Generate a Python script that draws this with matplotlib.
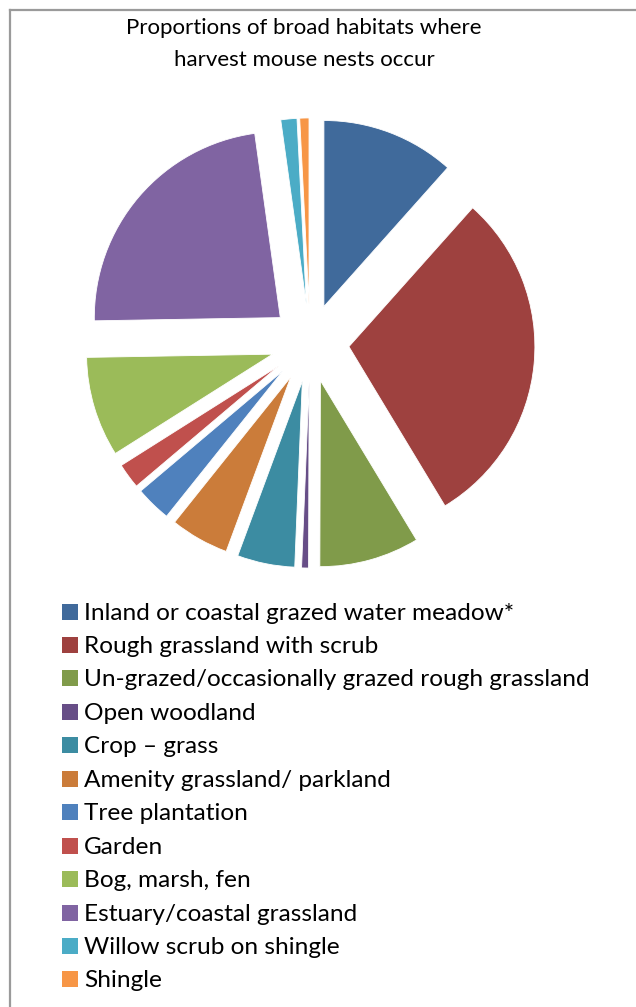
import matplotlib
matplotlib.use("Agg")
import matplotlib.pyplot as plt
from matplotlib.patches import Rectangle
from matplotlib.lines import Line2D

plt.rcParams['font.family'] = ['Lato', 'DejaVu Sans']

title = "Proportions of broad habitats where\nharvest mouse nests occur"

habitats = ["Inland or coastal grazed water meadow*",
            "Rough grassland with scrub",
            "Un-grazed/occasionally grazed rough grassland",
            "Open woodland",
            "Crop \u2013 grass",
            "Amenity grassland/ parkland",
            "Tree plantation",
            "Garden",
            "Bog, marsh, fen",
            "Estuary/coastal grassland",
            "Willow scrub on shingle",
            "Shingle"]

# percent of nests
share = [11.6, 29.8, 8.7, 0.6, 5.0, 5.1, 3.1, 2.2, 8.7, 23.1, 1.4, 0.8]

colors = ['#406A9B', '#9E413F', '#809B4A', '#674E87', '#3C8CA2', '#CB7C3A',
          '#4F81BD', '#C0504D', '#9BBB59', '#8064A2', '#4BACC6', '#F79646']

W, H = 636, 1007
fig = plt.figure(figsize=(W/100, H/100), dpi=100)

# pie: centre (310, 343) px from top-left, radius 186 px
cx, cy, r = 310, 343, 186
half = 1.5*r
ax = fig.add_axes([(cx - half)/W, (H - cy - half)/H, 2*half/W, 2*half/H])
ax.pie(share, colors=colors, startangle=90, counterclock=False,
       explode=[0.21]*len(share), radius=1,
       wedgeprops=dict(edgecolor='white', linewidth=0.6))
ax.set_xlim(-1.5, 1.5)
ax.set_ylim(-1.5, 1.5)
ax.axis('off')

fig.text(304/W, 1 - 44/H, title, ha='center', va='center', fontsize=16,
         linespacing=1.8, color='black')

# legend, one row per habitat
y0, step = 611.5, 33.45
for i, (lab, c) in enumerate(zip(habitats, colors)):
    yc = y0 + i*step
    fig.add_artist(Rectangle((62/W, 1 - (yc + 8)/H), 16/W, 16/H,
                             transform=fig.transFigure, color=c, lw=0))
    fig.text(84/W, 1 - (yc + 8)/H, lab, ha='left', va='baseline',
             fontsize=17.6, color='black')

# chart-area border (left and top edges only visible)
fig.add_artist(Line2D([10/W, 10/W], [0, 1 - 9.5/H], transform=fig.transFigure,
                      color='#9a9a9a', lw=1.6))
fig.add_artist(Line2D([10/W, 1], [1 - 9.5/H, 1 - 9.5/H], transform=fig.transFigure,
                      color='#9a9a9a', lw=1.6))

fig.savefig("out.png", dpi=100)
